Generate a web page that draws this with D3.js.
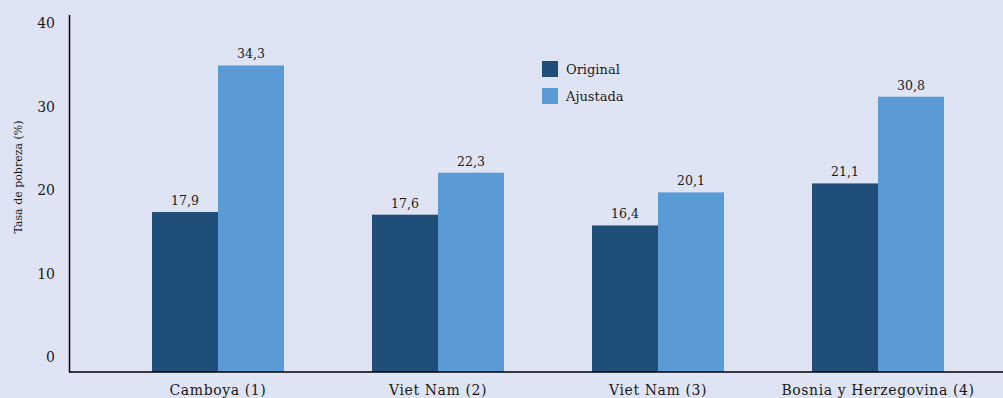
<!DOCTYPE html>
<html>
<head>
<meta charset="utf-8">
<script src="https://cdn.jsdelivr.net/npm/d3@7"></script>
<style>
  html, body { margin: 0; padding: 0; background: #dfe4f4; }
  svg { display: block; font-family: "DejaVu Serif", serif; }
</style>
</head>
<body>
<svg id="chart" width="1003" height="398"></svg>
<script>
// Poverty rates by country, original vs. adjusted measure
const categories = ["Camboya (1)", "Viet Nam (2)", "Viet Nam (3)", "Bosnia y Herzegovina (4)"];
const seriesNames = ["Original", "Ajustada"];
const original = [17.9, 17.6, 16.4, 21.1];
const ajustada = [34.3, 22.3, 20.1, 30.8];
const yTicks = [0, 10, 20, 30, 40];
const yTitle = "Tasa de pobreza (%)";

const colors = { Original: "#1f4e79", Ajustada: "#5b9bd5" };
const textColor = "#1a1a1a";
const serif = "DejaVu Serif, serif";

const svg = d3.select("#chart");

const rows = categories.map((c, i) => ({ cat: c, Original: original[i], Ajustada: ajustada[i] }));

const x = d3.scaleBand().domain(categories).range([108, 988]).paddingInner(0.4).paddingOuter(0.2);
const xs = d3.scaleBand().domain(seriesNames).range([0, x.bandwidth()]);
const y = d3.scaleLinear().domain([0, 40]).range([372, 14.5]);
// tick labels sit on their own evenly spaced track beside the axis
const yLab = d3.scaleLinear().domain([0, 40]).range([357, 23.5]);

// bars
const groups = svg.append("g").selectAll("g").data(rows).join("g")
  .attr("transform", d => `translate(${x(d.cat)},0)`);

groups.selectAll("rect").data(d => seriesNames.map(s => ({ s, v: d[s] }))).join("rect")
  .attr("x", d => xs(d.s))
  .attr("y", d => y(d.v))
  .attr("width", xs.bandwidth())
  .attr("height", d => y(0) - y(d.v))
  .attr("fill", d => colors[d.s]);

// value labels
groups.selectAll("text.val").data(d => seriesNames.map(s => ({ s, v: d[s] }))).join("text")
  .attr("class", "val")
  .attr("x", d => xs(d.s) + xs.bandwidth() / 2)
  .attr("y", d => y(d.v) - 7)
  .attr("text-anchor", "middle")
  .attr("font-size", 12.5)
  .attr("fill", textColor)
  .text(d => d.v.toFixed(1).replace(".", ","));

// y axis line
svg.append("g")
  .attr("transform", "translate(69,0)")
  .call(d3.axisLeft(y).tickValues([]).tickSizeOuter(0))
  .call(g => g.select(".domain").attr("stroke", "#000").attr("stroke-width", 1.5));

// y tick labels
svg.append("g")
  .attr("transform", "translate(69,0)")
  .call(d3.axisLeft(yLab).tickValues(yTicks).tickSize(0).tickPadding(14).tickFormat(d3.format("d")))
  .call(g => g.select(".domain").remove())
  .call(g => g.selectAll("text")
    .attr("font-family", serif)
    .attr("font-size", 14)
    .attr("fill", textColor));

// x axis
svg.append("g")
  .attr("transform", "translate(0,372)")
  .call(d3.axisBottom(x).tickSize(0).tickPadding(0))
  .call(g => g.select(".domain").attr("d", "M69,0H1003").attr("stroke", "#000").attr("stroke-width", 1.5))
  .call(g => g.selectAll("text")
    .attr("y", 23).attr("dy", 0)
    .attr("font-family", serif)
    .attr("font-size", 14)
    .attr("letter-spacing", 0.6)
    .attr("fill", textColor));

// y axis title
svg.append("text")
  .attr("transform", "translate(22,177) rotate(-90)")
  .attr("text-anchor", "middle")
  .attr("font-size", 11)
  .attr("fill", textColor)
  .text(yTitle);

// legend
const legend = svg.append("g").attr("transform", "translate(542,61)");
const li = legend.selectAll("g").data(seriesNames).join("g")
  .attr("transform", (d, i) => `translate(0,${i * 27})`);
li.append("rect").attr("width", 16).attr("height", 16).attr("fill", d => colors[d]);
li.append("text")
  .attr("x", 24).attr("y", 13)
  .attr("font-size", 13)
  .attr("fill", textColor)
  .text(d => d);
</script>
</body>
</html>
